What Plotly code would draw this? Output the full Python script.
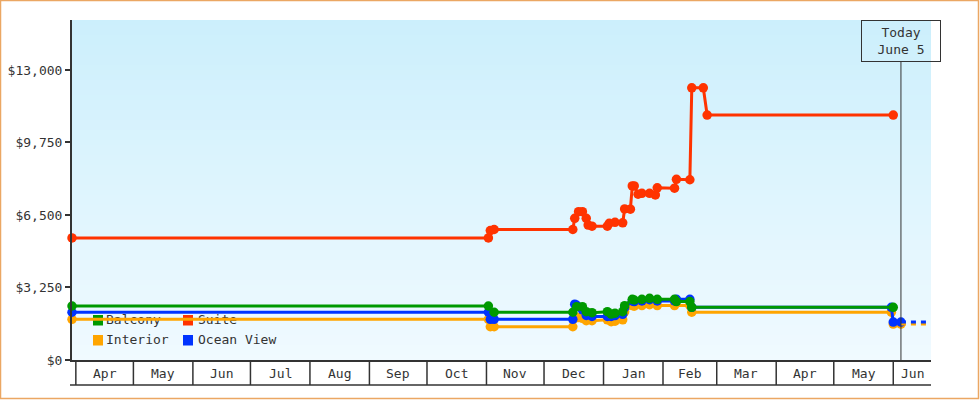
import plotly.graph_objects as go
import pandas as pd

# ---------------- data ----------------
interior_dates = ["2024-03-30", "2024-11-02", "2024-11-03", "2024-11-05", "2024-12-16", "2024-12-17",
                  "2024-12-19", "2024-12-21", "2024-12-23", "2024-12-26", "2025-01-03", "2025-01-05",
                  "2025-01-07", "2025-01-11", "2025-01-12", "2025-01-16", "2025-01-17", "2025-01-21",
                  "2025-01-25", "2025-01-29", "2025-02-07", "2025-02-15", "2025-02-16", "2025-05-31",
                  "2025-06-01", "2025-06-05"]
interior_prices = [1825, 1825, 1490, 1490, 1490, 1870,
                   1900, 1870, 1760, 1760, 1800, 1720,
                   1740, 1800, 2160, 2440, 2410, 2440,
                   2480, 2440, 2440, 2440, 2140, 2140,
                   1610, 1610]

ocean_dates = ["2024-03-30", "2024-11-02", "2024-11-03", "2024-11-05", "2024-12-16", "2024-12-17",
               "2024-12-18", "2024-12-21", "2024-12-23", "2024-12-26", "2025-01-03", "2025-01-05",
               "2025-01-07", "2025-01-11", "2025-01-12", "2025-01-16", "2025-01-17", "2025-01-21",
               "2025-01-25", "2025-01-29", "2025-02-07", "2025-02-08", "2025-02-15", "2025-02-16",
               "2025-05-31", "2025-06-01", "2025-06-05"]
ocean_prices = [2140, 2140, 1825, 1825, 1825, 2500,
                2450, 2250, 2000, 1950, 1950, 1950,
                1990, 2050, 2350, 2650, 2620, 2650,
                2700, 2650, 2650, 2720, 2720, 2360,
                2360, 1700, 1700]

balcony_dates = ["2024-03-30", "2024-11-02", "2024-11-05", "2024-12-16", "2024-12-18", "2024-12-21",
                 "2024-12-23", "2024-12-26", "2025-01-03", "2025-01-05", "2025-01-07", "2025-01-11",
                 "2025-01-12", "2025-01-16", "2025-01-17", "2025-01-21", "2025-01-25", "2025-01-29",
                 "2025-02-07", "2025-02-08", "2025-02-15", "2025-02-16", "2025-06-01"]
balcony_prices = [2420, 2420, 2140, 2140, 2390, 2390,
                  2165, 2120, 2165, 2060, 2095, 2165,
                  2435, 2720, 2690, 2720, 2765, 2720,
                  2720, 2620, 2620, 2360, 2360]

suite_dates = ["2024-03-30", "2024-11-02", "2024-11-03", "2024-11-05", "2024-12-16", "2024-12-17",
               "2024-12-19", "2024-12-21", "2024-12-23", "2024-12-24", "2024-12-26", "2025-01-03",
               "2025-01-04", "2025-01-07", "2025-01-11", "2025-01-12", "2025-01-15", "2025-01-16",
               "2025-01-17", "2025-01-19", "2025-01-21", "2025-01-25", "2025-01-28", "2025-01-29",
               "2025-02-07", "2025-02-08", "2025-02-15", "2025-02-16", "2025-02-22", "2025-02-24",
               "2025-06-01"]
suite_prices = [5470, 5470, 5800, 5850, 5850, 6350,
                6650, 6650, 6350, 6050, 6000, 6000,
                6130, 6170, 6150, 6770, 6760, 7800,
                7800, 7430, 7470, 7470, 7400, 7720,
                7700, 8100, 8080, 12200, 12200, 10980,
                10980]

# projected (dashed) continuation after today
proj_dates = ["2025-06-05", "2025-06-20"]
ocean_proj = [1700, 1700]
interior_proj = [1610, 1610]

legend_names = ["Balcony", "Suite", "Interior", "Ocean View"]
legend_colors = ["#009900", "#FF3300", "#FFA500", "#0033FF"]

month_labels = ["Apr", "May", "Jun", "Jul", "Aug", "Sep", "Oct", "Nov", "Dec",
                "Jan", "Feb", "Mar", "Apr", "May", "Jun"]
month_starts = ["2024-04-01", "2024-05-01", "2024-06-01", "2024-07-01", "2024-08-01",
                "2024-09-01", "2024-10-01", "2024-11-01", "2024-12-01", "2025-01-01",
                "2025-02-01", "2025-03-01", "2025-04-01", "2025-05-01", "2025-06-01"]

y_ticks = [0, 3250, 6500, 9750, 13000]
y_tick_labels = ["$0", "$3,250", "$6,500", "$9,750", "$13,000"]
today = "2025-06-05"
today_text = "Today<br>June 5"

# ---------------- layout constants ----------------
W, H = 980, 400
PL, PR, PT, PB = 72, 931, 20, 360
X_START = pd.Timestamp("2024-03-30")
X_END = pd.Timestamp("2025-06-20 16:00")
Y_MAX = 15240
FONT = "DejaVu Sans Mono"
TXT = "#333333"


def pxx(px):
    return (px - PL) / (PR - PL)


def pxy(py):
    return (PB - py) / (PB - PT)


def date_at(px):
    return X_START + (X_END - X_START) * pxx(px)


def val_at(py):
    return Y_MAX * pxy(py)


fig = go.Figure()

# legend text (drawn under the lines)
leg_px = [(106, 320.5), (198, 320.5), (106, 340.5), (198, 340.5)]
fig.add_trace(go.Scatter(
    x=[date_at(p[0]) for p in leg_px], y=[val_at(p[1]) for p in leg_px],
    mode="text", text=legend_names, textposition="middle right",
    textfont=dict(family=FONT, size=13, color=TXT),
    showlegend=False, hoverinfo="skip", cliponaxis=False))

line_w = 3
msize = 9.5

def add_series(dates, vals, color, name):
    fig.add_trace(go.Scatter(
        x=pd.to_datetime(dates), y=vals, mode="lines+markers", name=name,
        line=dict(color=color, width=line_w),
        marker=dict(color=color, size=msize, symbol="circle"),
        showlegend=False, cliponaxis=False))

add_series(interior_dates, interior_prices, "#FFA500", "Interior")
add_series(ocean_dates, ocean_prices, "#0033FF", "Ocean View")
add_series(balcony_dates, balcony_prices, "#009900", "Balcony")
add_series(suite_dates, suite_prices, "#FF3300", "Suite")

fig.add_trace(go.Scatter(x=pd.to_datetime(proj_dates), y=interior_proj, mode="lines",
                         line=dict(color="#FFA500", width=line_w, dash="5px,5px"),
                         showlegend=False, hoverinfo="skip"))
fig.add_trace(go.Scatter(x=pd.to_datetime(proj_dates), y=ocean_proj, mode="lines",
                         line=dict(color="#0033FF", width=line_w, dash="5px,5px"),
                         showlegend=False, hoverinfo="skip"))

shapes = []
# gradient background
N = 68
c_top = (204, 239, 252)
c_bot = (240, 250, 255)
for i in range(N):
    t = (i + 0.5) / N
    c = tuple(round(c_bot[k] + (c_top[k] - c_bot[k]) * t) for k in range(3))
    shapes.append(dict(type="rect", xref="paper", yref="paper", x0=0, x1=1,
                       y0=i / N, y1=min(1, (i + 1.05) / N), layer="below",
                       line=dict(width=0), fillcolor="rgb(%d,%d,%d)" % c))

# legend squares
sq_px = [(93, 315), (183, 315), (93, 335), (183, 335)]
for (sx, sy), col in zip(sq_px, legend_colors):
    shapes.append(dict(type="rect", xref="paper", yref="paper",
                       x0=pxx(sx), x1=pxx(sx + 10), y0=pxy(sy + 10.5), y1=pxy(sy),
                       layer="below", line=dict(width=0), fillcolor=col))

# month boxes under the x axis
box_bottom = pxy(385)
for ms in month_starts:
    shapes.append(dict(type="line", xref="x", yref="paper", x0=ms, x1=ms,
                       y0=0, y1=box_bottom, line=dict(color=TXT, width=1.5)))
shapes.append(dict(type="line", xref="paper", yref="paper", x0=pxx(70), x1=1,
                   y0=box_bottom, y1=box_bottom, line=dict(color=TXT, width=1.5)))

# today line
shapes.append(dict(type="line", xref="x", yref="paper", x0=today, x1=today,
                   y0=0, y1=pxy(61), line=dict(color=TXT, width=1)))

# outer border
shapes.append(dict(type="rect", xref="paper", yref="paper",
                   x0=pxx(0.5), x1=pxx(978.5), y0=pxy(398.5), y1=pxy(0.5),
                   line=dict(color="#EBA763", width=1.5), fillcolor="rgba(0,0,0,0)"))

annotations = []
ms_ts = [pd.Timestamp(m) for m in month_starts]
for i, lab in enumerate(month_labels):
    a = ms_ts[i]
    b = ms_ts[i + 1] if i + 1 < len(ms_ts) else X_END
    mid = a + (b - a) / 2
    annotations.append(dict(x=mid, y=pxy(373.5), xref="x", yref="paper", text=lab,
                            showarrow=False, xanchor="center", yanchor="middle",
                            font=dict(family=FONT, size=13, color=TXT)))

annotations.append(dict(x=today, y=1, xref="x", yref="paper", text=today_text,
                        showarrow=False, xanchor="center", yanchor="top",
                        width=78, height=40, align="center", valign="middle",
                        bordercolor=TXT, borderwidth=1, borderpad=0,
                        bgcolor="rgba(0,0,0,0)",
                        font=dict(family=FONT, size=13, color=TXT)))

fig.update_layout(
    width=W, height=H, autosize=False,
    margin=dict(l=PL, r=W - PR, t=PT, b=H - PB, autoexpand=False),
    paper_bgcolor="white", plot_bgcolor="rgb(230,246,253)",
    showlegend=False,
    shapes=shapes, annotations=annotations,
    xaxis=dict(type="date", range=[X_START, X_END], showgrid=False, zeroline=False,
               automargin=False,
               showticklabels=False, ticks="", showline=True, linewidth=2, linecolor=TXT),
    yaxis=dict(range=[0, Y_MAX], tickmode="array", tickvals=y_ticks, ticktext=y_tick_labels,
               automargin=False,
               showgrid=False, zeroline=False, showline=True, linewidth=2, linecolor=TXT,
               ticks="outside", ticklen=5, tickwidth=2, tickcolor=TXT,
               tickfont=dict(family=FONT, size=13, color=TXT)),
)

fig.write_html("out.html")
